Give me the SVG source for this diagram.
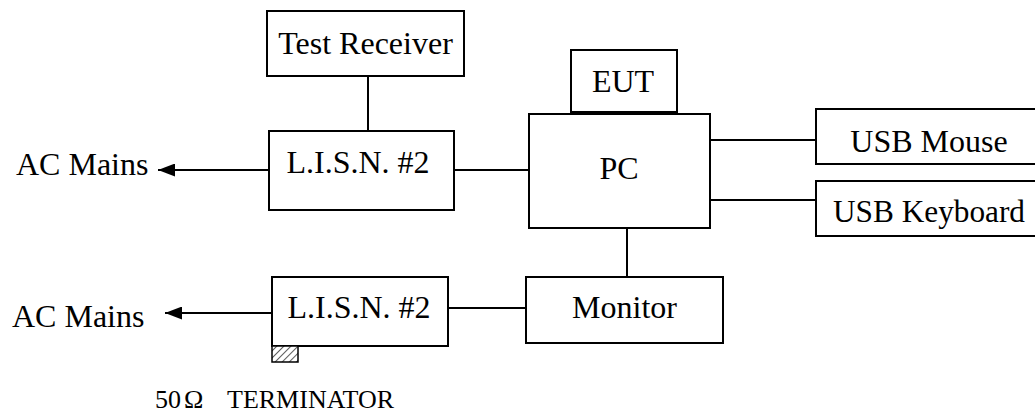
<svg xmlns="http://www.w3.org/2000/svg" width="1035" height="412" viewBox="0 0 1035 412">
<style>
.box{fill:#fff;stroke:#000;stroke-width:2}
.ln{stroke:#000;stroke-width:2;fill:none}
.t{font-family:"Liberation Serif","Times New Roman",serif;font-size:32px;fill:#000;text-anchor:middle}
.tl{font-family:"Liberation Serif","Times New Roman",serif;font-size:32px;fill:#000}
.ts{font-family:"Liberation Serif","Times New Roman",serif;font-size:26px;fill:#000}
</style>
<defs>
<marker id="arr" viewBox="0 0 17 13" refX="17" refY="6.5" markerWidth="17" markerHeight="13" markerUnits="userSpaceOnUse" orient="auto">
<path d="M0,0 L17,6.5 L0,13 z" fill="#000"/>
</marker>
<pattern id="hatch" patternUnits="userSpaceOnUse" width="5" height="5" patternTransform="rotate(45)">
<rect width="5" height="5" fill="#fff"/>
<line x1="0" y1="0" x2="0" y2="5" stroke="#333" stroke-width="1.6"/>
</pattern>
</defs>
<g id="connectors">
<line class="ln" x1="368" y1="76" x2="368" y2="131"/>
<line class="ln" x1="269" y1="170" x2="158" y2="170" marker-end="url(#arr)"/>
<line class="ln" x1="454" y1="170" x2="529" y2="170"/>
<line class="ln" x1="710" y1="140" x2="816" y2="140"/>
<line class="ln" x1="710" y1="200" x2="816" y2="200"/>
<line class="ln" x1="627" y1="223" x2="627" y2="277"/>
<line class="ln" x1="448" y1="308" x2="526" y2="308"/>
<line class="ln" x1="271" y1="313" x2="165" y2="313" marker-end="url(#arr)"/>
</g>
<g id="test-receiver">
<rect class="box" x="267" y="11" width="197" height="65"/>
<text class="t" x="365.5" y="54">Test Receiver</text>
</g>
<g id="lisn-upper">
<rect class="box" x="269" y="131" width="185" height="79"/>
<text class="t" x="358" y="173">L.I.S.N. #2</text>
</g>
<g id="ac-mains-upper">
<text class="tl" x="16" y="175">AC Mains</text>
</g>
<g id="eut">
<rect class="box" x="571" y="50" width="106" height="62"/>
<text class="t" x="623" y="92">EUT</text>
</g>
<g id="pc">
<rect class="box" x="529" y="114" width="181" height="114"/>
<text class="t" x="619" y="179">PC</text>
</g>
<g id="usb-mouse">
<rect class="box" x="816" y="109" width="230" height="55"/>
<text class="t" x="929" y="152">USB Mouse</text>
</g>
<g id="usb-keyboard">
<rect class="box" x="816" y="181" width="230" height="55"/>
<text class="t" x="929" y="222" textLength="192" lengthAdjust="spacingAndGlyphs">USB Keyboard</text>
</g>
<g id="monitor">
<rect class="box" x="526" y="277" width="197" height="66"/>
<text class="t" x="624.5" y="318">Monitor</text>
</g>
<g id="lisn-lower">
<rect class="box" x="272" y="277" width="176" height="69"/>
<text class="t" x="359" y="318">L.I.S.N. #2</text>
</g>
<g id="ac-mains-lower">
<text class="tl" x="12" y="327">AC Mains</text>
</g>
<g id="terminator">
<rect x="272" y="346" width="26" height="16" fill="url(#hatch)" stroke="#000" stroke-width="1.5"/>
<text class="ts" x="155" y="408">50<tspan dx="3">Ω</tspan></text>
<text class="ts" x="227" y="408">TERMINATOR</text>
</g>
</svg>
